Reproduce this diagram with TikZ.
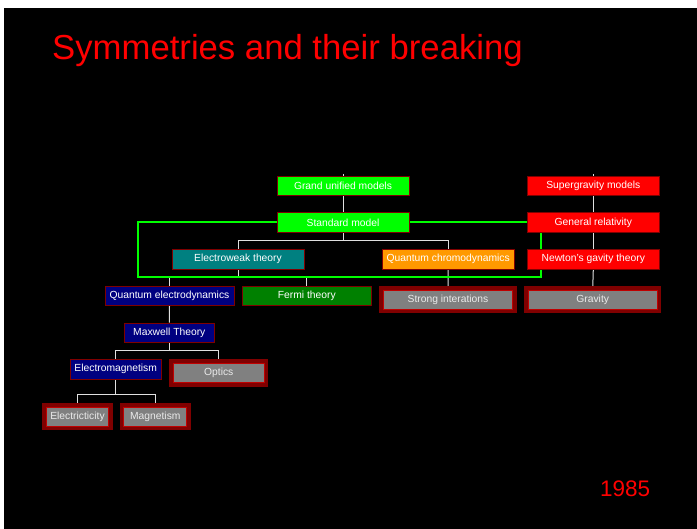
\documentclass[tikz,border=0pt]{standalone}
\usepackage{fontspec}
\setmainfont{Liberation Sans}
\pgfdeclarelayer{bg}
\pgfdeclarelayer{lines}
\pgfsetlayers{bg,lines,main}
\definecolor{brightgreen}{HTML}{00FF00}
\definecolor{tealbox}{HTML}{008080}
\definecolor{navybox}{HTML}{000080}
\definecolor{fermigreen}{HTML}{008000}
\definecolor{orangebox}{HTML}{FF9900}
\definecolor{redbox}{HTML}{FF0000}
\definecolor{graybox}{HTML}{808080}
\definecolor{darkredframe}{HTML}{800000}
\definecolor{midredframe}{HTML}{C00000}
\definecolor{linegray}{HTML}{E0E0E0}
\tikzset{
  cbox/.style={rectangle, draw=darkredframe, line width=0.8pt, text=white, inner sep=0pt,
    minimum height=19.5pt, font=\fontsize{10.3}{12}\selectfont},
  gbox/.style={rectangle, fill=graybox, draw=midredframe, line width=1pt, text=white!92!black,
    inner sep=0pt, minimum height=19.3pt, font=\fontsize{10.3}{12}\selectfont,
    preaction={draw=darkredframe, line width=8pt}},
  tree/.style={draw=linegray, line width=1pt},
  gline/.style={draw=brightgreen, line width=2pt},
}
\begin{document}
\begin{tikzpicture}[x=1pt,y=-1pt]
\begin{pgfonlayer}{bg}
\fill[white] (0,0) rectangle (697,529);
\fill[black] (4,8) rectangle (697,529);
\end{pgfonlayer}
\useasboundingbox (0,0) rectangle (697,529);

\node[anchor=base west, inner sep=0pt, text=red, font=\fontsize{34.7}{40}\selectfont] (title) at (52,59.3) {Symmetries and their breaking};
\node[anchor=base west, inner sep=0pt, text=red, font=\fontsize{22.5}{27}\selectfont] (year) at (600,496.7) {1985};

% coloured boxes
\node[cbox, fill=brightgreen, minimum width=132pt] (gum) at (343,186) {Grand unified models};
\node[cbox, fill=brightgreen, minimum width=132pt] (sm) at (343,222.5) {Standard model};
\node[cbox, fill=tealbox, minimum width=132pt] (ew) at (238,259.3) {Electroweak theory};
\node[cbox, fill=orangebox, minimum width=131.7pt] (qcd) at (448.2,259.3) {Quantum chromodynamics};
\node[cbox, fill=navybox, minimum width=129pt] (qed) at (169.5,296) {Quantum electrodynamics};
\node[cbox, fill=fermigreen, minimum width=129pt] (fermi) at (306.8,296) {Fermi theory};
\node[cbox, fill=redbox, minimum width=132pt] (sugra) at (593.3,186) {Supergravity models};
\node[cbox, fill=redbox, minimum width=132pt] (gr) at (593.3,222.5) {General relativity};
\node[cbox, fill=redbox, minimum width=132pt] (newton) at (593.3,259.3) {Newton's gavity theory};
\node[cbox, fill=navybox, minimum width=90pt] (maxwell) at (169.3,332.7) {Maxwell Theory};
\node[cbox, fill=navybox, minimum width=90.7pt] (em) at (115.7,369.3) {Electromagnetism};

% grey boxes
\node[gbox, minimum width=129.4pt] (strong) at (448,299.7) {Strong interations};
\node[gbox, minimum width=129.3pt] (gravity) at (592.7,299.7) {Gravity};
\node[gbox, minimum width=91pt] (optics) at (218.8,373) {Optics};
\node[gbox, minimum width=62.4pt, minimum height=18.7pt] (elec) at (77.5,416.7) {Electricticity};
\node[gbox, minimum width=62.7pt, minimum height=18.7pt] (magn) at (155.3,416.7) {Magnetism};

% helper coordinates
\coordinate (gumtop) at (343,174);
\coordinate (sugratop) at (593.3,174);
\coordinate (smfork) at (343,241);
\coordinate (ewfork) at (238,277.3);
\coordinate (mxfork) at (169.3,350.7);
\coordinate (emfork) at (115.7,395);
\coordinate (gleft) at (138.3,276.7);
\coordinate (gright) at (541,276.7);

\begin{pgfonlayer}{lines}
\draw[tree] (gumtop) -- (gum.north);
\draw[tree] (gum.south) -- (sm.north);
\draw[tree] (sm.south) -- (smfork);
\draw[tree] (smfork) -| (ew.north);
\draw[tree] (smfork) -| (qcd.north);
\draw[tree] (ew.south) -- (ewfork);
\draw[tree] (ewfork) -| (qed.north);
\draw[tree] (ewfork) -| (fermi.north);
\draw[tree] (qcd.south) -- (strong.north);
\draw[tree] (sugratop) -- (sugra.north);
\draw[tree] (sugra.south) -- (gr.north);
\draw[tree] (gr.south) -- (newton.north);
\draw[tree] (newton.south) -- (gravity.north);
\draw[tree] (qed.south) -- (maxwell.north);
\draw[tree] (maxwell.south) -- (mxfork);
\draw[tree] (mxfork) -| (em.north);
\draw[tree] (mxfork) -| (optics.north);
\draw[tree] (em.south) -- (emfork);
\draw[tree] (emfork) -| (elec.north);
\draw[tree] (emfork) -| (magn.north);
% green links
\draw[gline] (sm.east) -- (gr.west);
\draw[gline] (gr.south -| gright) -- (gright) -- (gleft) |- (sm.west);
\end{pgfonlayer}
\end{tikzpicture}
\end{document}
